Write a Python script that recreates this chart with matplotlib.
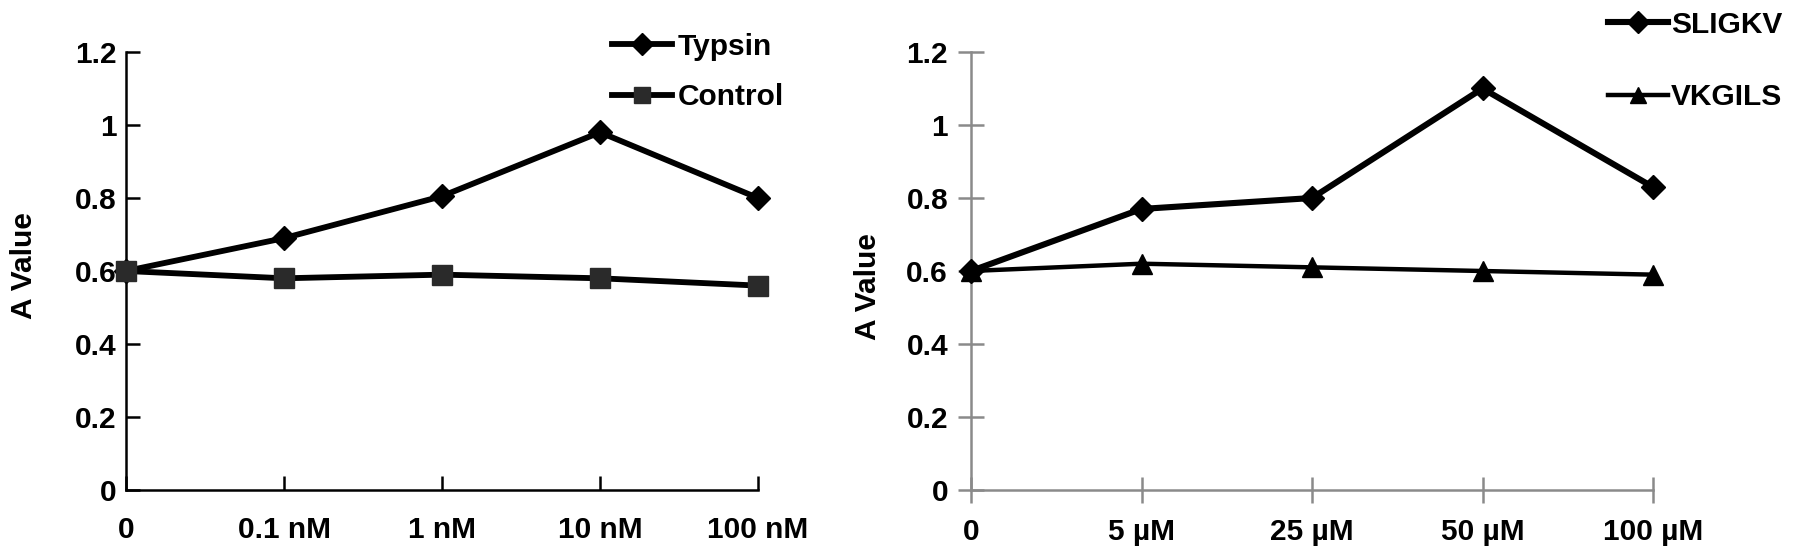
import matplotlib
matplotlib.use("Agg")
import matplotlib.pyplot as plt

plt.rcParams['font.family'] = ['Liberation Sans', 'DejaVu Sans']
plt.rcParams['font.weight'] = 'bold'

# left panel
left_labels = ["0", "0.1 nM", "1 nM", "10 nM", "100 nM"]
typsin = [0.60, 0.69, 0.805, 0.98, 0.80]
control = [0.60, 0.58, 0.59, 0.58, 0.56]

# right panel
right_labels = ["0", "5 \u00b5M", "25 \u00b5M", "50 \u00b5M", "100 \u00b5M"]
sligkv = [0.60, 0.77, 0.80, 1.10, 0.83]
vkgils = [0.60, 0.62, 0.61, 0.60, 0.59]

yticks = [0, 0.2, 0.4, 0.6, 0.8, 1, 1.2]
ytick_labels = ["0", "0.2", "0.4", "0.6", "0.8", "1", "1.2"]

W, H = 1795, 549
fig = plt.figure(figsize=(W / 100, H / 100), dpi=100)

fs = 21.5

def setup(ax, labels, spine_color):
    ax.set_xlim(0, len(labels) - 1)
    ax.set_ylim(0, 1.2)
    ax.set_xticks(range(len(labels)))
    ax.set_xticklabels(labels, fontsize=fs, fontweight='bold')
    ax.set_yticks(yticks)
    ax.set_yticklabels(ytick_labels, fontsize=fs, fontweight='bold')
    for s in ['top', 'right']:
        ax.spines[s].set_visible(False)
    for s in ['left', 'bottom']:
        ax.spines[s].set_color(spine_color)
        ax.spines[s].set_linewidth(1.8)
        ax.spines[s].set_zorder(1)
    ax.patch.set_visible(False)
    return ax

# left axes
ax1 = fig.add_axes([126 / W, (H - 490) / H, 632 / W, 438 / H])
setup(ax1, left_labels, 'black')
ax1.tick_params(axis='both', direction='in', length=10, width=1.8, color='black')
ax1.tick_params(axis='y', pad=7)
ax1.tick_params(axis='x', pad=19)
ax1.plot(range(5), typsin, color='black', lw=4.2, marker='D', ms=12,
         markerfacecolor='black', label='Typsin', clip_on=False, zorder=3)
ax1.plot(range(5), control, color='black', lw=4.2, marker='s', ms=15,
         markerfacecolor='#2a2a2a', markeredgecolor='#2a2a2a',
         label='Control', clip_on=False, zorder=3)
ax1.set_ylabel("A Value", fontsize=fs, fontweight='bold')
ax1.yaxis.set_label_coords((38 - 126) / 632, (490 - 266) / 438)
leg1 = ax1.legend(loc='center left', bbox_to_anchor=(612 / W, (H - 72) / H),
                  bbox_transform=fig.transFigure, frameon=False,
                  fontsize=fs, handlelength=2.0, handletextpad=0.2,
                  labelspacing=0.75, borderpad=0, borderaxespad=0)
for h in leg1.legend_handles:
    h.set_markersize(11)

# right axes
gray = '#8a8a8a'
ax2 = fig.add_axes([971 / W, (H - 490) / H, 682 / W, 438 / H])
setup(ax2, right_labels, gray)
ax2.tick_params(axis='both', direction='inout', length=19, width=1.8, color=gray)
ax2.tick_params(axis='y', pad=7)
ax2.tick_params(axis='x', pad=11)
ax2.plot(range(5), sligkv, color='black', lw=4.4, marker='D', ms=12,
         label='SLIGKV', clip_on=False, zorder=3)
ax2.plot(range(5), vkgils, color='black', lw=3.2, marker='^', ms=15,
         label='VKGILS', clip_on=False, zorder=3)
ax2.set_ylabel("A Value", fontsize=fs, fontweight='bold')
ax2.yaxis.set_label_coords((882 - 971) / 682, (490 - 287) / 438)
leg2 = ax2.legend(loc='center left', bbox_to_anchor=(1608 / W, (H - 61) / H),
                  bbox_transform=fig.transFigure, frameon=False,
                  fontsize=fs, handlelength=2.0, handletextpad=0.1,
                  labelspacing=1.5, borderpad=0, borderaxespad=0)
for h in leg2.legend_handles:
    h.set_markersize(11)

fig.savefig("out.png", dpi=100)
